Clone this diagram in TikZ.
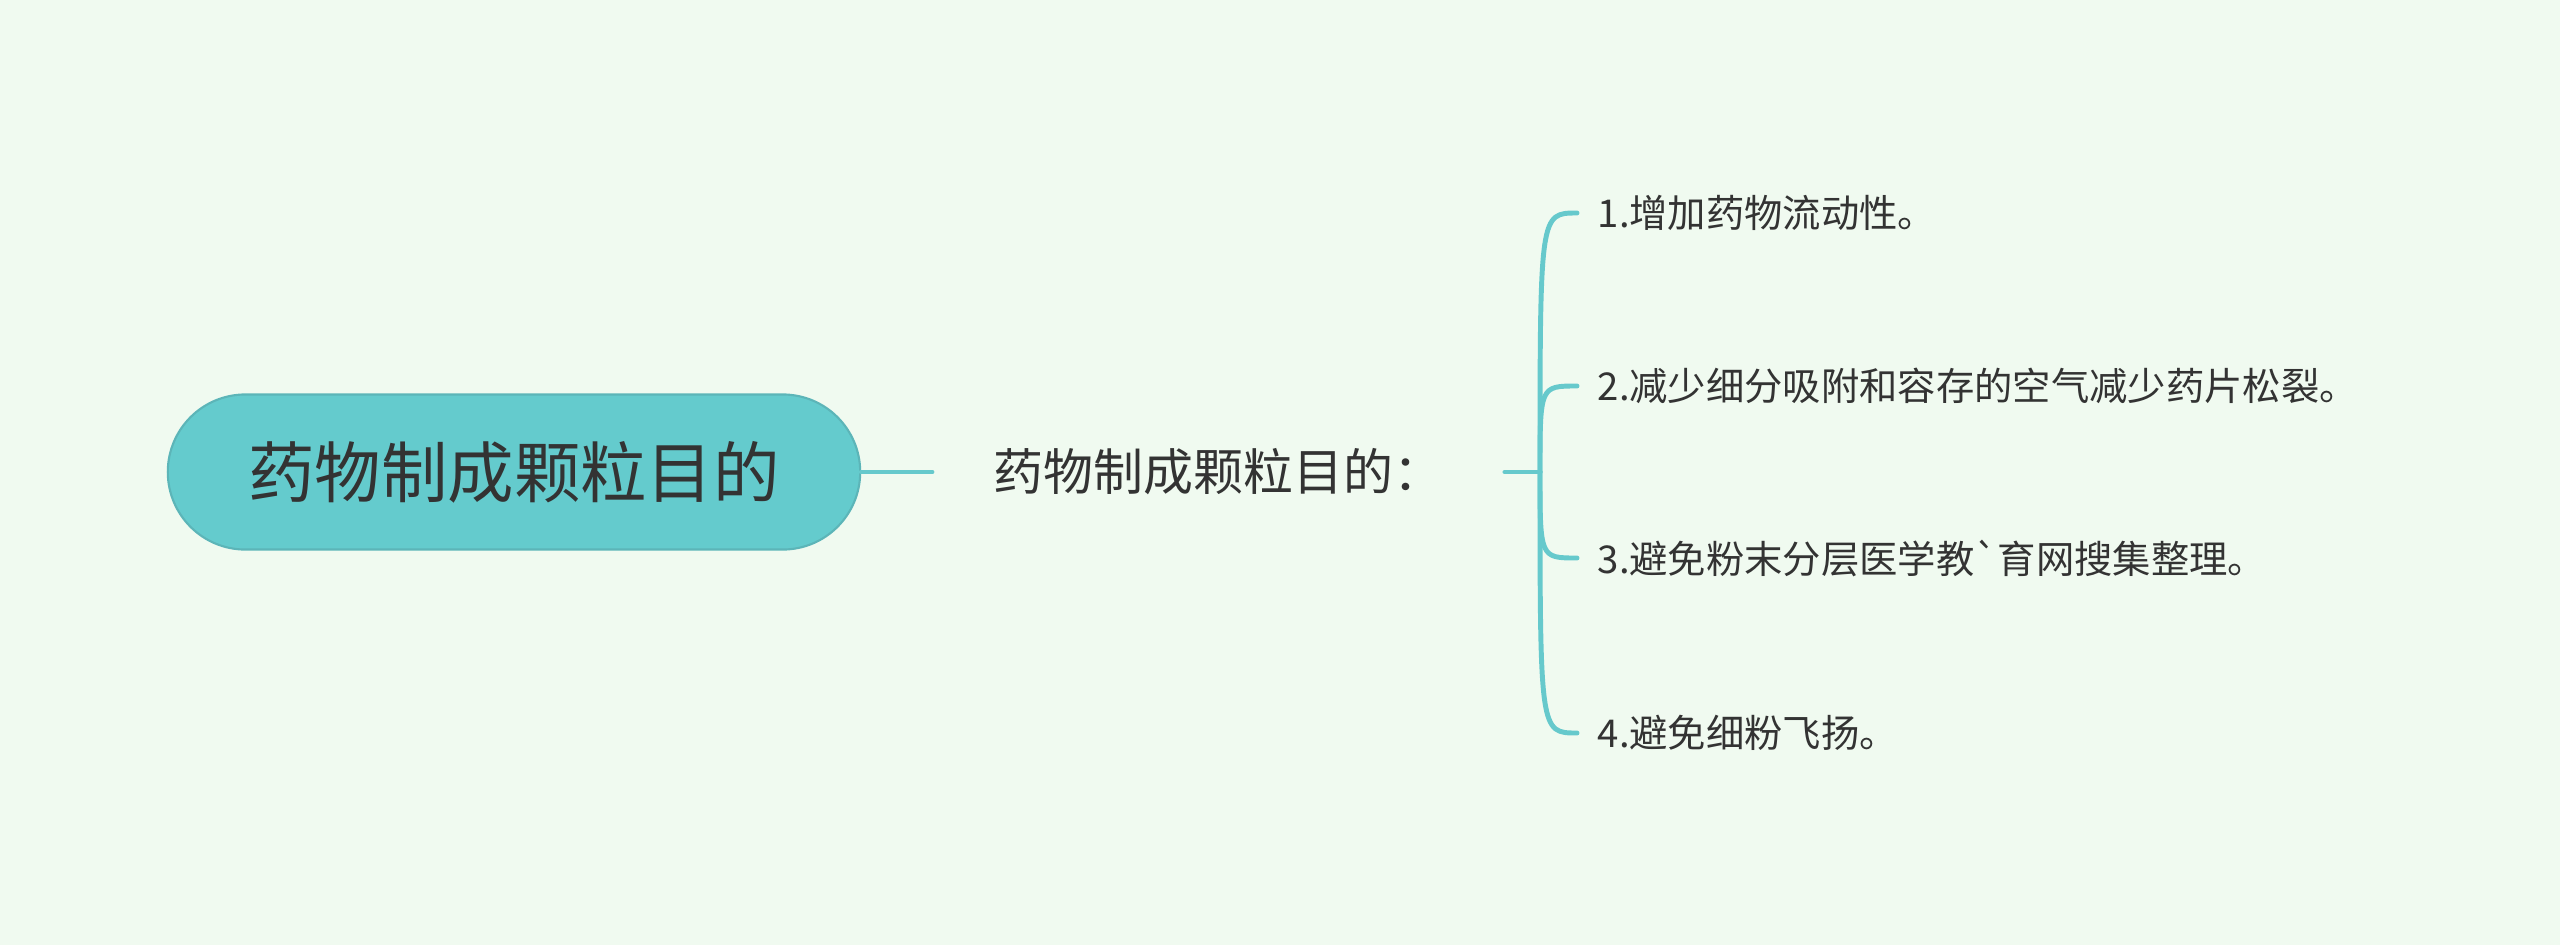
\documentclass[tikz,border=0pt]{standalone}
\usepackage{fontspec}
\setmainfont{Noto Sans CJK SC}[Ligatures=TeXOff]
\definecolor{bgmint}{RGB}{240,250,240}
\definecolor{tealfill}{RGB}{100,203,205}
\definecolor{tealline}{RGB}{102,201,204}
\definecolor{inkgray}{RGB}{51,51,51}
\tikzset{
  rootbox/.style={fill=tealfill,draw=tealline!90!black,line width=0.6pt,
    rounded corners=0.775cm,minimum width=6.92cm,minimum height=1.55cm,
    text=inkgray,font=\fontsize{18.9pt}{22pt}\selectfont},
  midtext/.style={inner xsep=0.61cm,inner ysep=0pt,text=inkgray,
    font=\fontsize{14.2pt}{17pt}\selectfont},
  leaftext/.style={inner xsep=0.2cm,inner ysep=0pt,text=inkgray,
    font=\fontsize{10.9pt}{13pt}\selectfont},
  link/.style={draw=tealline,line width=1.4pt,line cap=round}
}
\begin{document}
\begin{tikzpicture}[x=0.01cm,y=-0.01cm,line join=round]
  % background, fixes the page size
  \fill[bgmint] (0,0) rectangle (2560,945);

  % root and its single child
  \node[rootbox] (root) at (514,472) {药物制成颗粒目的};
  \node[midtext,anchor=west] (mid) at (932,472) {药物制成颗粒目的：};
  \coordinate (hub) at (1540,472);
  \draw[link] (root.east) -- (mid.west);
  \draw[link] (mid.east) -- (hub);

  % the four leaves, hung on a brace
  \foreach \i/\ypos/\txt in {1/213/{1.增加药物流动性。},
                             2/386/{2.减少细分吸附和容存的空气减少药片松裂。},
                             3/558/{3.避免粉末分层医学教`育网搜集整理。},
                             4/733/{4.避免细粉飞扬。}}{
    \node[leaftext,anchor=west] (leaf\i) at (1577,\ypos) {\txt};
    \draw[link] (hub) .. controls (hub |- leaf\i.west) .. (leaf\i.west);
  }
\end{tikzpicture}
\end{document}
